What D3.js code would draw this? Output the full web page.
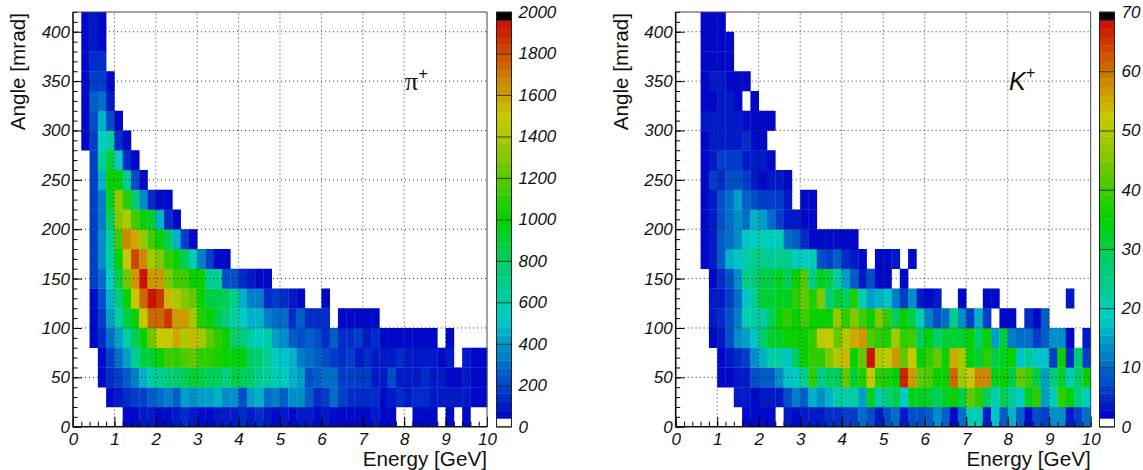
<!DOCTYPE html>
<html>
<head>
<meta charset="utf-8">
<script src="https://cdn.jsdelivr.net/npm/d3@7"></script>
<style>
	html, body { margin: 0; padding: 0; background: #fff; }
	svg { display: block; }
	text { font-family: "Liberation Sans", sans-serif; fill: #111; }
</style>
</head>
<body>
<svg class="svgWrapper" width="1143" height="470"></svg>
<script>
// counts per bin, one array per 20 mrad angle row, one entry per 0.2 GeV energy bin
// (rows stop at their last filled bin)
const piRow400 = [0,60,100,60];
const piRow380 = [0,60,110,60];
const piRow360 = [0,60,140,120];
const piRow340 = [0,60,170,170,60];
const piRow320 = [0,60,240,300,100];
const piRow300 = [0,60,200,460,220,60];
const piRow280 = [0,60,180,540,620,140,60];
const piRow260 = [0,0,180,640,880,540,140,60];
const piRow240 = [0,0,180,440,1000,1000,640,200,60];
const piRow220 = [0,0,160,340,950,1320,1080,780,380,140,60,60];
const piRow200 = [0,0,180,340,800,1280,1420,1140,1000,880,470,130,60];
const piRow180 = [0,0,170,390,640,1120,1650,1560,1320,1120,1000,800,460,180,70];
const piRow160 = [0,0,170,370,620,980,1480,1830,1640,1360,1280,1080,1000,800,580,350,160,60,60];
const piRow140 = [0,0,160,300,540,860,1260,1600,1920,1620,1600,1280,1150,1150,1020,1000,640,640,230,230,150,100,60,60];
const piRow120 = [0,0,60,220,460,720,1000,1480,1750,1950,1860,1520,1400,1280,1200,1000,850,850,800,700,440,320,320,140,170,130,110,60,0,0,60];
const piRow100 = [0,0,70,190,400,600,850,1000,1480,1720,1740,1840,1600,1600,1360,1040,1000,850,720,600,520,460,460,340,300,280,130,240,150,130,120,0,60,60,60,60,60];
const piRow80 = [0,0,60,130,300,430,620,800,1000,1240,1480,1480,1590,1400,1540,1380,1200,1100,1000,780,720,600,540,600,400,380,260,200,240,220,150,240,140,140,160,80,120,70,70,70,70,60,60,60,0,60];
const piRow60 = [0,0,0,60,160,280,420,640,840,900,1000,1120,1100,1180,1200,1080,1080,1060,1000,980,960,780,760,660,550,500,460,320,280,240,220,170,120,190,90,140,100,110,110,140,90,80,100,100,60,100,0,110,60,60];
const piRow40 = [0,0,0,70,130,170,260,320,450,600,640,720,780,800,900,840,820,800,680,860,800,780,640,640,560,520,440,430,220,240,290,290,170,170,170,190,110,110,200,110,110,100,120,90,80,60,70,80,70,60];
const piRow20 = [0,0,0,0,60,100,130,170,190,240,300,350,250,420,370,420,430,450,370,380,220,420,440,300,340,260,360,360,240,120,160,280,170,120,130,130,130,70,100,130,80,150,150,110,100,110,80,80,70,70];
const piRow0 = [0,0,0,0,0,0,60,70,100,100,60,60,80,120,90,70,70,90,90,80,120,100,140,80,70,80,60,100,80,60,80,60,60,60,60,60,80,60,60,0,0,70,60,60,0,60,0,60];

const kRow400 = [0,0,0,2,2,2];
const kRow380 = [0,0,0,2,2,2,2];
const kRow360 = [0,0,0,2,2,2,2];
const kRow340 = [0,0,0,2,3,3,2,2,2];
const kRow320 = [0,0,0,2,2,3,3,2,0,2];
const kRow300 = [0,0,0,3,3,4,3,4,2,2,2,2];
const kRow280 = [0,0,0,2,3,4,4,3,5,2,2];
const kRow260 = [0,0,0,2,3,6,6,6,4,3,4,2];
const kRow240 = [0,0,0,2,6,5,7,7,6,4,2,3,3,2];
const kRow220 = [0,0,0,2,4,8,11,14,9,7,6,6,6,3,0,2,2];
const kRow200 = [0,0,0,2,4,8,11,13,10,16,14,11,6,4,3,2,2];
const kRow180 = [0,0,0,2,3,9,10,13,17,19,20,19,20,11,9,5,2,2,2,2,2,2];
const kRow160 = [0,0,0,2,4,9,16,17,21,25,24,23,25,24,19,19,20,8,6,9,5,4,2,0,2,2,3,0,2];
const kRow140 = [0,0,0,0,2,5,8,13,25,26,30,30,33,28,36,41,25,33,30,22,15,9,4,7,2,2,0,2];
const kRow120 = [0,0,0,0,3,4,6,10,18,23,31,32,33,33,38,42,37,45,26,32,29,37,20,14,16,18,12,6,13,3,2,3,0,0,2,0,0,2,2,0,0,0,0,0,0,0,0,4];
const kRow100 = [0,0,0,0,3,5,8,12,20,22,22,28,35,38,36,40,36,35,35,47,38,46,40,35,45,38,28,36,30,20,12,7,10,25,13,6,16,6,0,2,2,0,5,2,9];
const kRow80 = [0,0,0,0,2,4,8,13,14,18,27,31,33,35,36,36,38,51,52,42,50,55,57,41,39,37,48,39,40,29,34,27,32,32,32,35,27,36,15,30,12,10,10,6,9,13,13,2,0,4];
const kRow60 = [0,0,0,0,0,2,3,5,6,13,16,22,21,17,28,35,38,38,46,50,54,35,43,68,49,51,56,42,53,36,39,42,35,55,48,34,31,38,30,33,36,18,23,18,18,6,35,5,27,6];
const kRow40 = [0,0,0,0,0,2,2,3,3,8,9,9,13,18,19,23,38,25,28,28,42,32,37,53,38,37,34,66,56,42,41,36,36,61,48,53,58,58,33,35,30,42,40,30,15,26,32,20,27,36];
const kRow20 = [0,0,0,0,0,0,0,3,4,2,4,4,4,8,12,9,16,13,16,22,21,21,15,33,22,26,30,19,33,33,31,29,33,35,30,42,39,29,20,29,23,19,33,38,15,20,38,34,26,19];
const kRow0 = [0,0,0,0,0,0,0,0,2,2,2,2,0,3,2,3,3,3,5,5,6,6,11,8,4,8,10,4,8,8,9,13,9,2,10,20,20,4,18,9,16,9,2,8,6,13,13,3,6,10];

const piRows = [piRow0,piRow20,piRow40,piRow60,piRow80,piRow100,piRow120,piRow140,piRow160,piRow180,piRow200,piRow220,piRow240,piRow260,piRow280,piRow300,piRow320,piRow340,piRow360,piRow380,piRow400];
const kRows = [kRow0,kRow20,kRow40,kRow60,kRow80,kRow100,kRow120,kRow140,kRow160,kRow180,kRow200,kRow220,kRow240,kRow260,kRow280,kRow300,kRow320,kRow340,kRow360,kRow380,kRow400];

const energyTicks = [0,1,2,3,4,5,6,7,8,9,10];
const angleTicks = [0,50,100,150,200,250,300,350,400];
const piBarTicks = [0,200,400,600,800,1000,1200,1400,1600,1800,2000];
const kBarTicks = [0,10,20,30,40,50,60,70];

const binE = 0.2, binA = 20, nLevels = 50;
const svgObj = d3.select('.svgWrapper');

// rainbow-like palette, white bottom band and black top band
const paletteScale = d3.scaleLinear()
	.domain([0.02, 0.10, 0.20, 0.26, 0.30, 0.40, 0.50, 0.60, 0.70, 0.75, 0.80, 0.90, 0.98])
	.range(['#0000c8','#0046c8','#0096c8','#00cdc8','#00cdaa','#00cd64','#00d200','#5ac800','#aac800','#c8c800','#cda000','#cd5000','#cd0a00'])
	.clamp(true);
const palette = d3.range(nLevels).map(k => {
	if (k === 0) return '#fff';
	if (k === nLevels - 1) return '#000';
	return paletteScale((k + 0.5) / nLevels);
});

function buildPanel(opts){
	const {left, right, top, bottom, barLeft, barRight, rows, maxVal, barTicks} = opts;
	const g = svgObj.append('g');

	const xScale = d3.scaleLinear().domain([0, 10]).range([left, right]);
	const yScale = d3.scaleLinear().domain([0, 420]).range([bottom, top]);
	const colorScale = d3.scaleQuantize().domain([0, maxVal]).range(palette);

	const cells = rows.flatMap((row, r) => row.map((v, c) => ({r, c, v}))).filter(d => d.v > 0);
	g.append('g').selectAll('rect').data(cells).join('rect')
		.attr('x', d => xScale(d.c * binE))
		.attr('y', d => yScale((d.r + 1) * binA))
		.attr('width', xScale(binE) - xScale(0) + 0.3)
		.attr('height', yScale(0) - yScale(binA) + 0.3)
		.attr('fill', d => colorScale(d.v));

	// dotted grid sits on top of the cells
	const grid = g.append('g').attr('stroke', '#000').attr('stroke-width', 1).attr('stroke-dasharray', '1 3').attr('opacity', 0.8);
	grid.selectAll('.gx').data(energyTicks.slice(1, -1)).join('line')
		.attr('x1', d => xScale(d)).attr('x2', d => xScale(d))
		.attr('y1', bottom).attr('y2', top);
	grid.selectAll('.gy').data(angleTicks.slice(1)).join('line')
		.attr('x1', left).attr('x2', right)
		.attr('y1', d => yScale(d)).attr('y2', d => yScale(d));

	const xMinor = d3.range(0, 10.01, binE);
	const yMinor = d3.range(0, 420.1, 10);

	g.append('g').attr('transform', `translate(0,${bottom})`)
		.call(d3.axisBottom(xScale).tickValues(xMinor).tickSize(-5).tickFormat(''))
		.call(s => s.select('.domain').remove());
	g.append('g').attr('transform', `translate(${left},0)`)
		.call(d3.axisLeft(yScale).tickValues(yMinor).tickSize(-4.5).tickFormat(''))
		.call(s => s.select('.domain').remove());

	const xAxisG = g.append('g').attr('transform', `translate(0,${bottom})`)
		.call(d3.axisBottom(xScale).tickValues(energyTicks).tickSize(-10).tickPadding(6).tickFormat(d3.format('d')));
	const yAxisG = g.append('g').attr('transform', `translate(${left},0)`)
		.call(d3.axisLeft(yScale).tickValues(angleTicks).tickSize(-9).tickPadding(3).tickFormat(d3.format('d')));
	[xAxisG, yAxisG].forEach(a => {
		a.select('.domain').remove();
		a.selectAll('text').attr('font-size', 17).attr('font-style', 'italic').attr('font-family', '"Liberation Sans"').attr('fill', '#111');
	});

	g.append('path')
		.attr('d', `M${left},${top}H${right}V${bottom}`)
		.attr('fill', 'none').attr('stroke', '#444').attr('stroke-width', 1);
	g.append('path')
		.attr('d', `M${left},${top}V${bottom}H${right}`)
		.attr('fill', 'none').attr('stroke', '#111').attr('stroke-width', 1.6);

	// colour bar
	const barScale = d3.scaleLinear().domain([0, maxVal]).range([bottom, top]);
	const bandH = (bottom - top) / nLevels;
	g.append('g').selectAll('rect').data(palette).join('rect')
		.attr('x', barLeft)
		.attr('width', barRight - barLeft)
		.attr('y', (d, i) => barScale((i + 1) * maxVal / nLevels))
		.attr('height', bandH + 0.3)
		.attr('fill', d => d);
	const barAxisG = g.append('g').attr('transform', `translate(${barRight},0)`)
		.call(d3.axisRight(barScale).tickValues(barTicks).tickSize(-(barRight - barLeft)).tickPadding(7).tickFormat(d3.format('d')));
	barAxisG.select('.domain').remove();
	barAxisG.selectAll('line').attr('stroke', '#222').attr('opacity', 0.8);
	barAxisG.selectAll('text').attr('font-size', 17).attr('font-style', 'italic').attr('font-family', '"Liberation Sans"').attr('fill', '#111');
	g.append('rect')
		.attr('x', barLeft).attr('y', top)
		.attr('width', barRight - barLeft).attr('height', bottom - top)
		.attr('fill', 'none').attr('stroke', '#222').attr('stroke-width', 1);

	// titles
	g.append('text')
		.attr('x', right).attr('y', bottom + 39)
		.attr('text-anchor', 'end').attr('font-size', 20.7)
		.text('Energy [GeV]');
	g.append('text')
		.attr('transform', `translate(${left - 48},${top + 1}) rotate(-90)`)
		.attr('text-anchor', 'end').attr('font-size', 20.7)
		.text('Angle [mrad]');

	return g;
}

const piPanel = buildPanel({
	left: 73, right: 487, top: 12, bottom: 426.7,
	barLeft: 496.5, barRight: 511.5,
	rows: piRows, maxVal: 2000, barTicks: piBarTicks
});
const kPanel = buildPanel({
	left: 675.7, right: 1090.7, top: 12, bottom: 426.7,
	barLeft: 1099.5, barRight: 1114.5,
	rows: kRows, maxVal: 70, barTicks: kBarTicks
});

const piLabel = piPanel.append('text').attr('x', 405).attr('y', 90).attr('font-size', 26);
piLabel.append('tspan').attr('font-family', '"Liberation Serif"').text('π');
piLabel.append('tspan').attr('font-size', 16).attr('font-style', 'italic').attr('dy', -11).attr('dx', 0).text('+');

const kLabel = kPanel.append('text').attr('x', 1009).attr('y', 90).attr('font-size', 25).attr('font-style', 'italic');
kLabel.append('tspan').text('K');
kLabel.append('tspan').attr('font-size', 16).attr('dy', -12).text('+');
</script>
</body>
</html>
